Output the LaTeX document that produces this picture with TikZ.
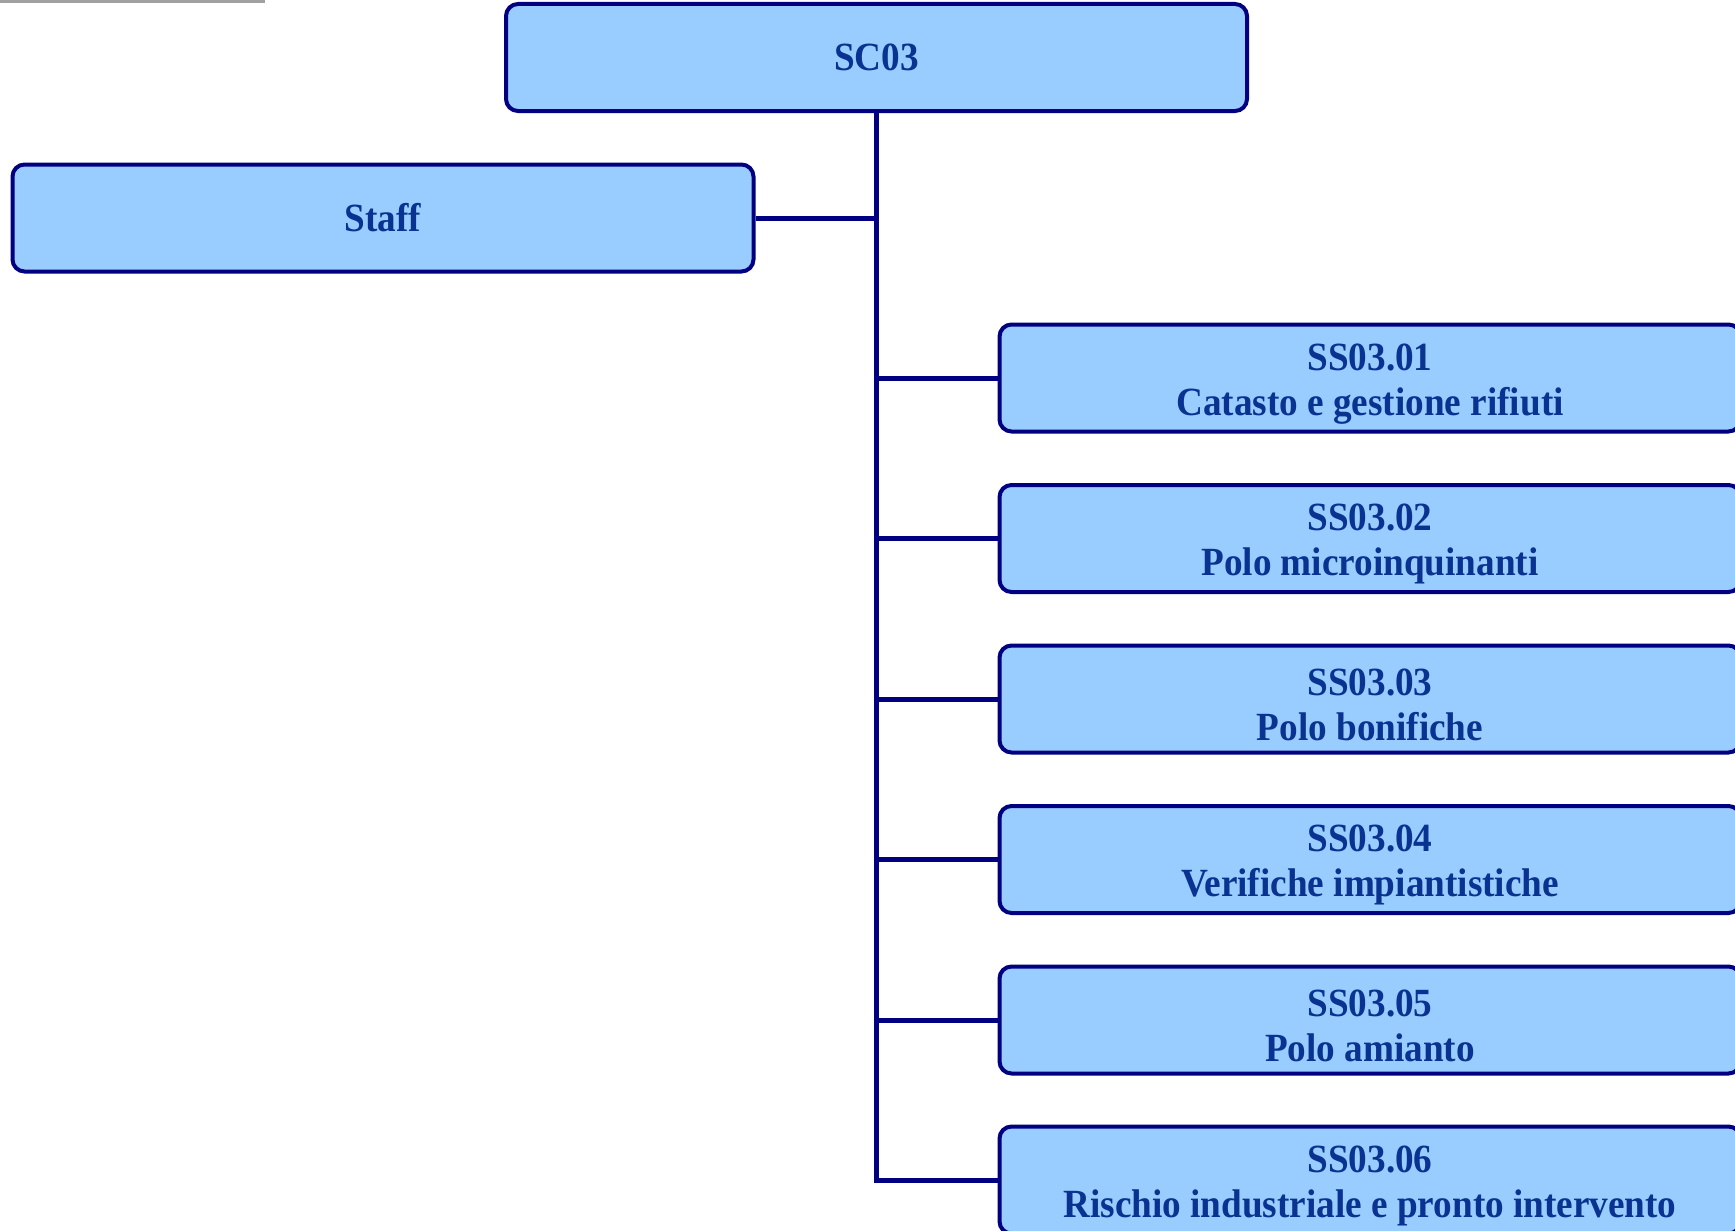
\documentclass[tikz,border=0pt]{standalone}
\usepackage{fontspec}
\setmainfont[FakeStretch=0.93]{Liberation Serif}
\definecolor{boxfill}{RGB}{153,204,255}
\definecolor{boxline}{RGB}{0,0,128}
\definecolor{txtblue}{RGB}{10,50,145}
\definecolor{artgray}{RGB}{120,120,120}
\newcommand{\toplift}{\rule{0pt}{38pt}}
\tikzset{
  orgbox/.style={draw=boxline, fill=boxfill, line width=4pt, rounded corners=12pt,
    minimum width=741pt, minimum height=107pt, align=center, text=txtblue,
    font=\fontsize{40}{45}\selectfont\bfseries, inner sep=0pt},
  link/.style={draw=boxline, line width=5pt}
}
\begin{document}
\begin{tikzpicture}[x=1pt,y=-1pt]
\useasboundingbox (0,0) rectangle (1735,1231);
\fill[artgray!70] (0,0) rectangle (265,3);
\node[orgbox] (sc) at (876.5,57.5) {SC03};
\node[orgbox] (staff) at (383,218) {Staff};
\node[orgbox] (s1) at (1370,378) {\toplift SS03.01\\Catasto e gestione rifiuti};
\node[orgbox] (s2) at (1370,538.5) {\toplift SS03.02\\Polo microinquinanti};
\node[orgbox] (s3) at (1370,699) {\toplift SS03.03\\Polo bonifiche};
\node[orgbox] (s4) at (1370,859.5) {\toplift SS03.04\\Verifiche impiantistiche};
\node[orgbox] (s5) at (1370,1020) {\toplift SS03.05\\Polo amianto};
\node[orgbox] (s6) at (1370,1180) {\toplift SS03.06\\Rischio industriale e pronto intervento};
\coordinate (bend) at (sc.south |- s6.west);
\draw[link] (sc.south) -- (bend) -- (s6.west);
\foreach \n in {staff.east,s1.west,s2.west,s3.west,s4.west,s5.west}{
  \draw[link] (\n) -- (sc.south |- \n);
}
\end{tikzpicture}
\end{document}
